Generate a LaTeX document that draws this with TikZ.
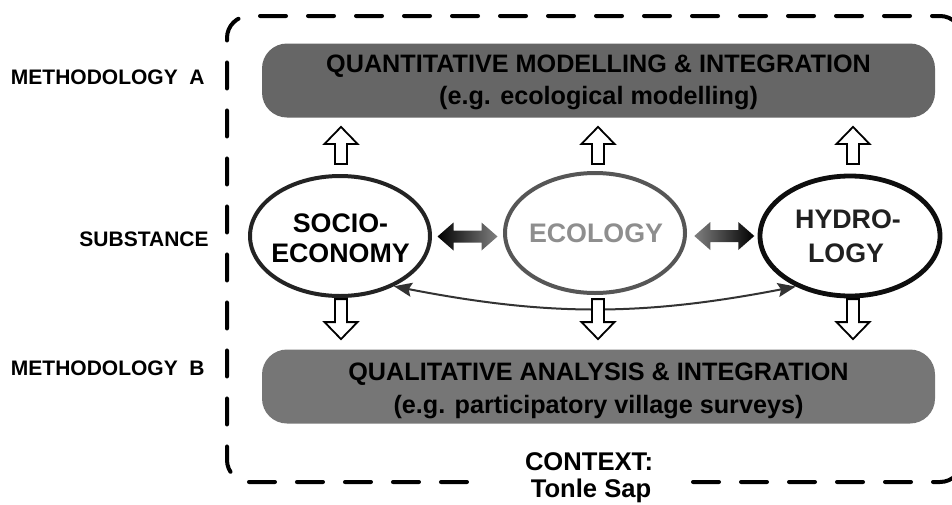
\documentclass[tikz,border=0pt]{standalone}
\usepackage{fontspec}
\setmainfont{Liberation Sans}
\usetikzlibrary{arrows.meta,calc,shapes.geometric}
\definecolor{bandA}{HTML}{666666}
\definecolor{bandB}{HTML}{767676}
\definecolor{ringSoc}{HTML}{232323}
\definecolor{ringEco}{HTML}{565656}
\definecolor{ringHyd}{HTML}{0E0E0E}
\definecolor{inkEco}{HTML}{8E8E8E}
\definecolor{inkHyd}{HTML}{202020}
\definecolor{linkCol}{HTML}{333333}
\definecolor{fadeGray}{HTML}{808080}

\begin{document}
\begin{tikzpicture}[x=0.5pt,y=0.5pt,
  sidelabel/.style={anchor=east, inner sep=0pt, font=\fontsize{10.5}{12}\selectfont\bfseries},
  bandbox/.style={rounded corners=12.5pt, minimum width=336.5pt, minimum height=37pt, inner sep=0pt},
  bandtext/.style={anchor=base, inner sep=0pt, font=\fontsize{12.6}{15}\selectfont\bfseries},
  ring/.style={ellipse, minimum width=90pt, minimum height=60pt, inner sep=0pt, line width=2pt, fill=white},
  ringtext/.style={anchor=base, inner sep=0pt, font=\fontsize{13.4}{15}\selectfont\bfseries},
  hollow/.style={draw=black, fill=white, line width=0.9pt, line join=miter},
  pics/blockarr/.style={code={
    \path[hollow] (0,0) -- (16.5,-17) -- (6,-17) -- (6,-#1) -- (-6,-#1)
      -- (-6,-17) -- (-16.5,-17) -- cycle;}},
  pics/twinarr/.style 2 args={code={
    \shade[left color=#1, right color=#2] (-30,0) -- (-14,14) -- (-14,6)
      -- (14,6) -- (14,14) -- (30,0) -- (14,-14) -- (14,-6) -- (-14,-6)
      -- (-14,-14) -- cycle;}}
]
\useasboundingbox (0,0) rectangle (952,-504);

% context frame, open at the bottom for its caption
\draw[line width=2pt, dash pattern=on 13pt off 11pt, line cap=round,
      rounded corners=11pt]
  (693,-482) -- (962,-482) -- (962,-16) -- (227,-16) -- (227,-482) -- (484,-482);
\node[bandtext, font=\fontsize{12.8}{15}\selectfont\bfseries] (ctx1) at (589,-470) {CONTEXT:};
\node[bandtext, font=\fontsize{12.8}{15}\selectfont\bfseries] (ctx2) at (591,-497) {Tonle Sap};

% row labels
\node[sidelabel] (labA) at (205,-77) {METHODOLOGY\ \ A};
\node[sidelabel] (labS) at (209,-239) {SUBSTANCE};
\node[sidelabel] (labB) at (205,-368) {METHODOLOGY\ \ B};

% methodology bands
\node[bandbox, fill=bandA] (quant) at (598.5,-80.5) {};
\node[bandtext] (quant1) at (598.5,-72) {QUANTITATIVE MODELLING \& INTEGRATION};
\node[bandtext] (quant2) at (598.5,-104) {(e.g. ecological modelling)};

\node[bandbox, fill=bandB] (qual) at (598.5,-386.5) {};
\node[bandtext] (qual1) at (598.5,-380) {QUALITATIVE ANALYSIS \& INTEGRATION};
\node[bandtext] (qual2) at (598.5,-413) {(e.g. participatory village surveys)};

% substance ellipses
\node[ring, draw=ringSoc] (soc) at (340,-236) {};
\node[ring, draw=ringEco] (eco) at (595,-233) {};
\node[ring, draw=ringHyd, line width=2.4pt] (hyd) at (850,-236) {};

\node[ringtext] (soc1) at (340.5,-232) {SOCIO-};
\node[ringtext] (soc2) at (340.5,-262) {ECONOMY};
\node[ringtext, text=inkEco] (eco1) at (596,-242) {ECOLOGY};
\node[ringtext, text=inkHyd] (hyd1) at (848,-228) {HYDRO-};
\node[ringtext, text=inkHyd] (hyd2) at (846,-262) {LOGY};

% exchange between neighbouring disciplines
\pic at ($(soc.east)!0.5!(eco.west)+(0,-2)$) {twinarr={black}{fadeGray}};
\pic at ($(eco.west -| hyd.west)!0.5!(eco.east)+(2,-3)$) {twinarr={fadeGray}{black}};

% direct link between socio-economy and hydrology
\draw[linkCol, line width=1pt,
      {Stealth[length=9pt,width=7pt,inset=1.5pt]}-{Stealth[length=9pt,width=7pt,inset=1.5pt]}]
  (soc.-43) to[bend right=11] (hyd.-137);

% upward and downward transfer arrows
\foreach \e/\dx in {soc/1, eco/3, hyd/3}{
  \pic at ($(\e.north |- quant.south)+(\dx,-9)$) {blockarr=37};
  \pic[rotate=180] at ($(\e.north |- qual.north)+(\dx,10)$) {blockarr=40};
}
\end{tikzpicture}
\end{document}
